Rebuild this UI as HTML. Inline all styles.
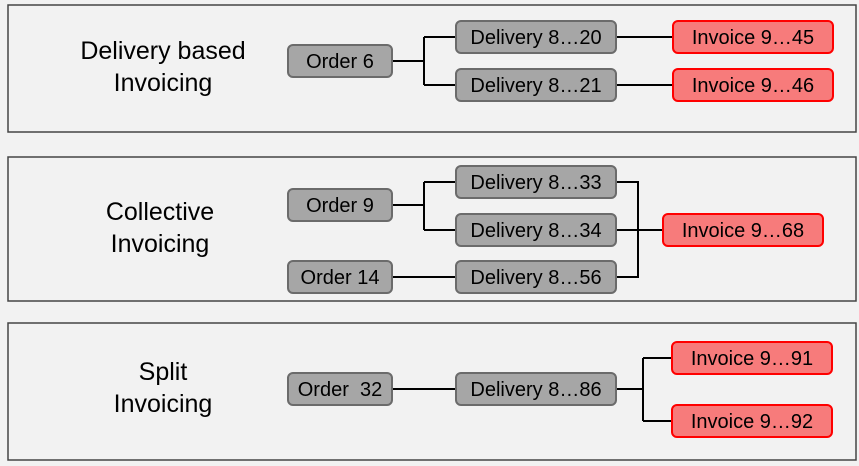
<!DOCTYPE html>
<html><head><style>
body{margin:0;background:#f2f2f2;}
svg{display:block;font-family:"Liberation Sans",sans-serif;}
.p{fill:#f2f2f2;stroke:#444;stroke-width:1.5}
.g{fill:#a6a6a6;stroke:#6b6b6b;stroke-width:2}
.r{fill:#f77b7b;stroke:#f00;stroke-width:2}
.l{fill:none;stroke:#000;stroke-width:2}
.t{font-size:20px;text-anchor:middle;fill:#000}
.h{font-size:25px;text-anchor:middle;fill:#000}
</style></head><body>
<svg width="859" height="466" viewBox="0 0 859 466">
<rect x="0" y="0" width="859" height="466" fill="#f2f2f2"/>
<rect class="p" x="8" y="5" width="848" height="127"/>
<rect class="p" x="8" y="157" width="848" height="144"/>
<rect class="p" x="8" y="323" width="848" height="137"/>

<text class="h" x="163" y="59">Delivery based</text>
<text class="h" x="163" y="91">Invoicing</text>
<text class="h" x="160" y="220">Collective</text>
<text class="h" x="160" y="252">Invoicing</text>
<text class="h" x="163" y="380">Split</text>
<text class="h" x="163" y="412">Invoicing</text>

<path class="l" d="M392 61H424M424 37V85M424 37H456M424 85H456M617 37H673M617 85H673"/>
<path class="l" d="M392 205H424M424 182V230M424 182H456M424 230H456M392 277H456M617 182H638V277H617M617 230H663"/>
<path class="l" d="M392 389H456M617 389H643M643 358V421M643 358H672M643 421H672"/>

<rect class="g" x="288" y="45" width="104" height="32" rx="5"/><text class="t" x="340" y="68">Order 6</text>
<rect class="g" x="456" y="21" width="160" height="32" rx="5"/><text class="t" x="536" y="44">Delivery 8…20</text>
<rect class="g" x="456" y="69" width="160" height="32" rx="5"/><text class="t" x="536" y="92">Delivery 8…21</text>
<rect class="r" x="673" y="21" width="160" height="32" rx="5"/><text class="t" x="753" y="44">Invoice 9…45</text>
<rect class="r" x="673" y="69" width="160" height="32" rx="5"/><text class="t" x="753" y="92">Invoice 9…46</text>

<rect class="g" x="288" y="189" width="104" height="32" rx="5"/><text class="t" x="340" y="212">Order 9</text>
<rect class="g" x="288" y="261" width="104" height="32" rx="5"/><text class="t" x="340" y="284">Order 14</text>
<rect class="g" x="456" y="166" width="160" height="32" rx="5"/><text class="t" x="536" y="189">Delivery 8…33</text>
<rect class="g" x="456" y="214" width="160" height="32" rx="5"/><text class="t" x="536" y="237">Delivery 8…34</text>
<rect class="g" x="456" y="261" width="160" height="32" rx="5"/><text class="t" x="536" y="284">Delivery 8…56</text>
<rect class="r" x="663" y="214" width="160" height="32" rx="5"/><text class="t" x="743" y="237">Invoice 9…68</text>

<rect class="g" x="288" y="373" width="104" height="32" rx="5"/><text class="t" x="340" y="396">Order&#160; 32</text>
<rect class="g" x="456" y="373" width="160" height="32" rx="5"/><text class="t" x="536" y="396">Delivery 8…86</text>
<rect class="r" x="672" y="342" width="160" height="32" rx="5"/><text class="t" x="752" y="365">Invoice 9…91</text>
<rect class="r" x="672" y="405" width="160" height="32" rx="5"/><text class="t" x="752" y="428">Invoice 9…92</text>
</svg>
</body></html>
